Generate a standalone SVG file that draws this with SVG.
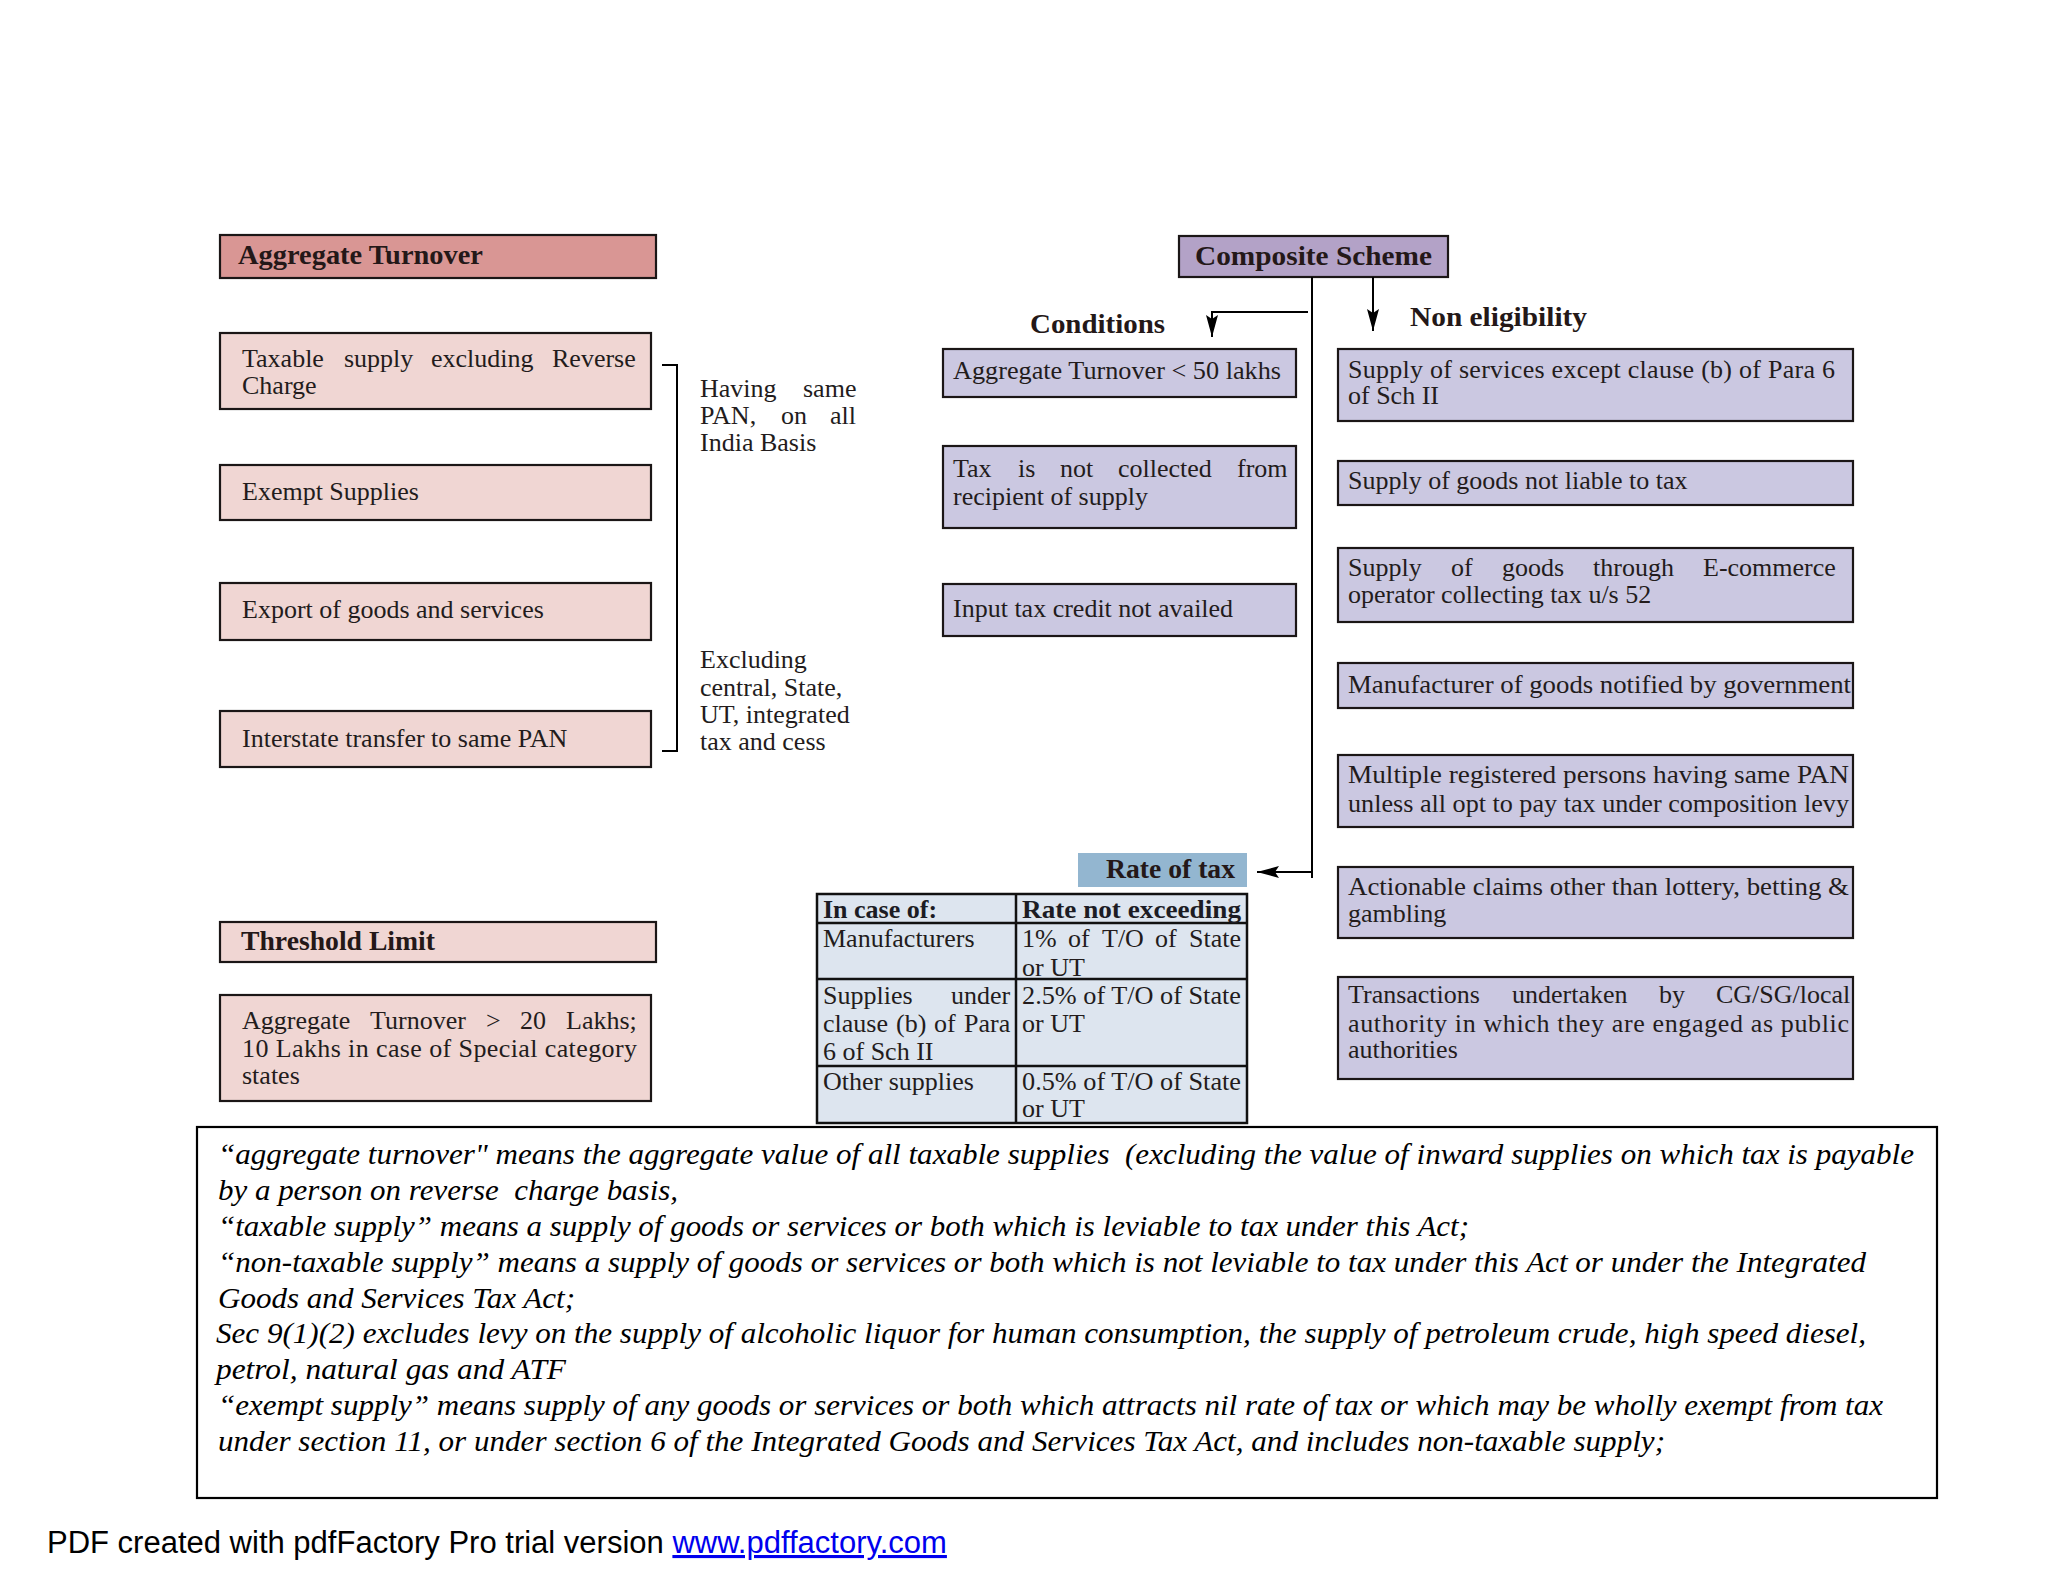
<svg xmlns="http://www.w3.org/2000/svg" width="2048" height="1582" viewBox="0 0 2048 1582">
<defs>
<style>
.bx{stroke:#1b1616;stroke-width:2.2}
.pk{fill:#f0d6d3}
.pkh{fill:#d99694}
.pu{fill:#b3a2c7}
.lv{fill:#cbc8e1}
.tb{fill:#dde5ef}
.t{font-family:"Liberation Serif","Times New Roman",serif;font-size:26px;fill:#231c1c}
.h{font-family:"Liberation Serif","Times New Roman",serif;font-size:28px;font-weight:bold;fill:#241818}
.tbh{font-family:"Liberation Serif","Times New Roman",serif;font-size:26px;font-weight:bold;fill:#1c1c24}
.ft{font-family:"Liberation Serif","Times New Roman",serif;font-size:30px;font-style:italic;fill:#000}
.ln{stroke:#000;stroke-width:2;fill:none}
.tl{stroke:#111;stroke-width:2.5;fill:none}
</style>
<marker id="ah" viewBox="0 0 22 12" refX="22" refY="6" markerWidth="22" markerHeight="12" markerUnits="userSpaceOnUse" orient="auto">
<path d="M0,0 L22,6 L0,12 L4,6 z" fill="#000"/>
</marker>
</defs>
<rect width="2048" height="1582" fill="#fff"/>

<!-- Left column -->
<g id="aggregate-turnover">
<rect class="bx pkh" x="220" y="235" width="436" height="43"/>
<text class="h" x="238" y="264" textLength="245" lengthAdjust="spacingAndGlyphs">Aggregate Turnover</text>
</g>
<g id="taxable-supply">
<rect class="bx pk" x="220" y="333" width="431" height="76"/>
<text class="t" y="367"><tspan x="242">Taxable</tspan> <tspan x="344">supply</tspan> <tspan x="431">excluding</tspan> <tspan x="552">Reverse</tspan></text>
<text class="t" x="242" y="394">Charge</text>
</g>
<g id="exempt-supplies">
<rect class="bx pk" x="220" y="465" width="431" height="55"/>
<text class="t" x="242" y="500">Exempt Supplies</text>
</g>
<g id="export">
<rect class="bx pk" x="220" y="583" width="431" height="57"/>
<text class="t" x="242" y="618">Export of goods and services</text>
</g>
<g id="interstate">
<rect class="bx pk" x="220" y="711" width="431" height="56"/>
<text class="t" x="242" y="747">Interstate transfer to same PAN</text>
</g>
<g id="note-same-pan">
<text class="t" y="397"><tspan x="700">Having</tspan> <tspan x="803">same</tspan></text>
<text class="t" y="424"><tspan x="700">PAN,</tspan> <tspan x="781">on</tspan> <tspan x="830">all</tspan></text>
<text class="t" x="700" y="451">India Basis</text>
</g>
<g id="note-excluding">
<text class="t" x="700" y="668">Excluding</text>
<text class="t" x="700" y="696">central, State,</text>
<text class="t" x="700" y="723">UT, integrated</text>
<text class="t" x="700" y="750">tax and cess</text>
</g>
<g id="threshold-limit">
<rect class="bx pk" x="220" y="922" width="436" height="40"/>
<text class="h" x="241" y="950" textLength="194" lengthAdjust="spacingAndGlyphs">Threshold Limit</text>
</g>
<g id="threshold-value">
<rect class="bx pk" x="220" y="995" width="431" height="106"/>
<text class="t" y="1029"><tspan x="242">Aggregate</tspan> <tspan x="370">Turnover</tspan> <tspan x="486">&gt;</tspan> <tspan x="520">20</tspan> <tspan x="566">Lakhs;</tspan></text>
<text class="t" x="242" y="1057" textLength="395" lengthAdjust="spacing">10 Lakhs in case of Special category</text>
<text class="t" x="242" y="1084">states</text>
</g>

<!-- Composite scheme -->
<g id="composite-scheme">
<rect class="bx pu" x="1179" y="236" width="269" height="41"/>
<text class="h" x="1195" y="265" textLength="237" lengthAdjust="spacingAndGlyphs">Composite Scheme</text>
</g>
<g id="conditions-label">
<text class="h" x="1030" y="333" textLength="135" lengthAdjust="spacingAndGlyphs">Conditions</text>
</g>
<g id="non-eligibility-label">
<text class="h" x="1410" y="326" textLength="177" lengthAdjust="spacingAndGlyphs">Non eligibility</text>
</g>
<g id="cond-turnover">
<rect class="bx lv" x="943" y="349" width="353" height="48"/>
<text class="t" x="953" y="379" textLength="328" lengthAdjust="spacingAndGlyphs">Aggregate Turnover &lt; 50 lakhs</text>
</g>
<g id="cond-tax-not-collected">
<rect class="bx lv" x="943" y="446" width="353" height="82"/>
<text class="t" y="477"><tspan x="953">Tax</tspan> <tspan x="1018">is</tspan> <tspan x="1060">not</tspan> <tspan x="1118">collected</tspan> <tspan x="1237">from</tspan></text>
<text class="t" x="953" y="505">recipient of supply</text>
</g>
<g id="cond-itc">
<rect class="bx lv" x="943" y="584" width="353" height="52"/>
<text class="t" x="953" y="617">Input tax credit not availed</text>
</g>

<g id="ne-services">
<rect class="bx lv" x="1338" y="349" width="515" height="72"/>
<text class="t" x="1348" y="378" textLength="487" lengthAdjust="spacing">Supply of services except clause (b) of Para 6</text>
<text class="t" x="1348" y="404">of Sch II</text>
</g>
<g id="ne-goods-not-liable">
<rect class="bx lv" x="1338" y="461" width="515" height="44"/>
<text class="t" x="1348" y="489">Supply of goods not liable to tax</text>
</g>
<g id="ne-ecommerce">
<rect class="bx lv" x="1338" y="548" width="515" height="74"/>
<text class="t" y="576"><tspan x="1348">Supply</tspan> <tspan x="1451">of</tspan> <tspan x="1502">goods</tspan> <tspan x="1593">through</tspan> <tspan x="1703">E-commerce</tspan></text>
<text class="t" x="1348" y="603">operator collecting tax u/s 52</text>
</g>
<g id="ne-manufacturer">
<rect class="bx lv" x="1338" y="663" width="515" height="45"/>
<text class="t" x="1348" y="693" textLength="503" lengthAdjust="spacingAndGlyphs">Manufacturer of goods notified by government</text>
</g>
<g id="ne-multiple">
<rect class="bx lv" x="1338" y="755" width="515" height="72"/>
<text class="t" x="1348" y="783" textLength="501" lengthAdjust="spacingAndGlyphs">Multiple registered persons having same PAN</text>
<text class="t" x="1348" y="812" textLength="501" lengthAdjust="spacingAndGlyphs">unless all opt to pay tax under composition levy</text>
</g>
<g id="ne-actionable">
<rect class="bx lv" x="1338" y="867" width="515" height="71"/>
<text class="t" x="1348" y="895" textLength="501" lengthAdjust="spacingAndGlyphs">Actionable claims other than lottery, betting &amp;</text>
<text class="t" x="1348" y="922">gambling</text>
</g>
<g id="ne-transactions">
<rect class="bx lv" x="1338" y="977" width="515" height="102"/>
<text class="t" y="1003"><tspan x="1348">Transactions</tspan> <tspan x="1512">undertaken</tspan> <tspan x="1659">by</tspan> <tspan x="1716">CG/SG/local</tspan></text>
<text class="t" x="1348" y="1032" textLength="501" lengthAdjust="spacing">authority in which they are engaged as public</text>
<text class="t" x="1348" y="1058">authorities</text>
</g>

<g id="rate-of-tax">
<rect x="1078" y="853" width="169" height="34" fill="#93b6d0"/>
<text class="h" x="1106" y="878" textLength="129" lengthAdjust="spacingAndGlyphs">Rate of tax</text>
</g>
<g id="rate-table">
<rect class="tb" x="817" y="894" width="430" height="229"/>
<path class="tl" d="M817,894 H1247 V1123 H817 Z M1016,894 V1123 M817,923 H1247 M817,979 H1247 M817,1066 H1247"/>
<text class="tbh" x="823" y="918">In case of:</text>
<text class="tbh" x="1022" y="918" textLength="219" lengthAdjust="spacingAndGlyphs">Rate not exceeding</text>
<text class="t" x="823" y="947">Manufacturers</text>
<text class="t" y="947"><tspan x="1022">1%</tspan> <tspan x="1068">of</tspan> <tspan x="1102">T/O</tspan> <tspan x="1155">of</tspan> <tspan x="1189">State</tspan></text>
<text class="t" x="1022" y="976">or UT</text>
<text class="t" y="1004"><tspan x="823">Supplies</tspan> <tspan x="951">under</tspan></text>
<text class="t" y="1032"><tspan x="823">clause</tspan> <tspan x="896">(b)</tspan> <tspan x="934">of</tspan> <tspan x="964">Para</tspan></text>
<text class="t" x="823" y="1060">6 of Sch II</text>
<text class="t" x="1022" y="1004" textLength="219" lengthAdjust="spacingAndGlyphs">2.5% of T/O of State</text>
<text class="t" x="1022" y="1032">or UT</text>
<text class="t" x="823" y="1090">Other supplies</text>
<text class="t" x="1022" y="1090" textLength="219" lengthAdjust="spacingAndGlyphs">0.5% of T/O of State</text>
<text class="t" x="1022" y="1117">or UT</text>
</g>

<g id="connectors">
<path class="ln" d="M662,365 H677 V751 H662"/>
<path class="ln" d="M1312,277 V878"/>
<path class="ln" d="M1312,872 H1257" marker-end="url(#ah)"/>
<path class="ln" d="M1308,312 H1212 V337" marker-end="url(#ah)"/>
<path class="ln" d="M1373,277 V331" marker-end="url(#ah)"/>
</g>

<g id="definitions">
<rect x="197" y="1127" width="1740" height="371" fill="#fff" stroke="#000" stroke-width="2.2"/>
<text class="ft" xml:space="preserve" x="218" y="1164" textLength="1696" lengthAdjust="spacingAndGlyphs">“aggregate turnover" means the aggregate value of all taxable supplies  (excluding the value of inward supplies on which tax is payable</text>
<text class="ft" xml:space="preserve" x="218" y="1200" textLength="460" lengthAdjust="spacingAndGlyphs">by a person on reverse  charge basis,</text>
<text class="ft" x="218" y="1236" textLength="1251" lengthAdjust="spacingAndGlyphs">“taxable supply” means a supply of goods or services or both which is leviable to tax under this Act;</text>
<text class="ft" x="218" y="1272" textLength="1648" lengthAdjust="spacingAndGlyphs">“non-taxable supply” means a supply of goods or services or both which is not leviable to tax under this Act or under the Integrated</text>
<text class="ft" x="218" y="1308" textLength="357" lengthAdjust="spacingAndGlyphs">Goods and Services Tax Act;</text>
<text class="ft" x="216" y="1343" textLength="1650" lengthAdjust="spacingAndGlyphs">Sec 9(1)(2) excludes levy on the supply of alcoholic liquor for human consumption, the supply of petroleum crude, high speed diesel,</text>
<text class="ft" x="216" y="1379" textLength="350" lengthAdjust="spacingAndGlyphs">petrol, natural gas and ATF</text>
<text class="ft" x="218" y="1415" textLength="1665" lengthAdjust="spacingAndGlyphs">“exempt supply” means supply of any goods or services or both which attracts nil rate of tax or which may be wholly exempt from tax</text>
<text class="ft" x="218" y="1451" textLength="1447" lengthAdjust="spacingAndGlyphs">under section 11, or under section 6 of the Integrated Goods and Services Tax Act, and includes non-taxable supply;</text>
</g>

<g id="pdf-footer">
<text x="47" y="1553" font-family="'Liberation Sans',Arial,sans-serif" font-size="31" fill="#000">PDF created with pdfFactory Pro trial version <tspan fill="#0000ee" text-decoration="underline">www.pdffactory.com</tspan></text>
</g>
</svg>
